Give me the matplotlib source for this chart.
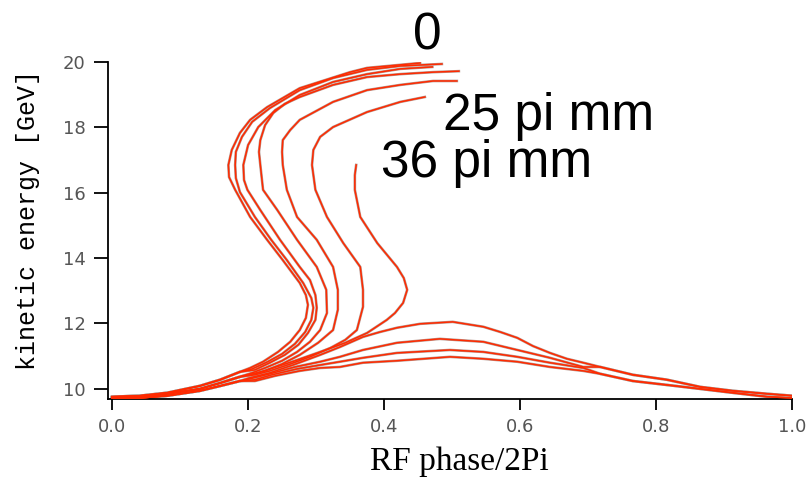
import numpy as np
import matplotlib
matplotlib.use("Agg")
import matplotlib.pyplot as plt

# phase-space traces: (RF phase / 2pi, kinetic energy GeV)
tail_a = [(0.188, 10.52), (0.159, 10.28), (0.129, 10.09), (0.081, 9.88), (0.041, 9.79), (0.0, 9.76)]
tail_b = [(0.188, 10.37), (0.159, 10.18), (0.129, 10.00), (0.081, 9.85), (0.041, 9.76), (0.0, 9.74)]
tail_c = [(0.188, 10.24), (0.159, 10.09), (0.129, 9.94), (0.081, 9.79), (0.041, 9.72), (0.0, 9.72)]
tail_r1 = [(0.718, 10.67), (0.766, 10.43), (0.816, 10.28), (0.865, 10.06), (0.913, 9.94),
           (0.963, 9.85), (1.0, 9.79)]
tail_r2 = [(0.718, 10.46), (0.766, 10.24), (0.816, 10.12), (0.865, 10.00), (0.913, 9.88),
           (0.963, 9.76), (1.0, 9.72)]

s_curve_1 = [(0.453, 19.97), (0.375, 19.82), (0.350, 19.69), (0.276, 19.20), (0.228, 18.62),
             (0.203, 18.23), (0.188, 17.83), (0.176, 17.31), (0.171, 16.85), (0.172, 16.48),
             (0.181, 16.09), (0.203, 15.26), (0.228, 14.56), (0.251, 13.94), (0.276, 13.24),
             (0.285, 12.87), (0.288, 12.57), (0.285, 12.17), (0.276, 11.80), (0.262, 11.44),
             (0.244, 11.13), (0.222, 10.83), (0.203, 10.64)]
s_curve_2 = [(0.485, 19.94), (0.424, 19.88), (0.375, 19.76), (0.325, 19.51), (0.276, 19.14),
             (0.232, 18.59), (0.206, 18.17), (0.191, 17.71), (0.182, 17.25), (0.181, 16.85),
             (0.182, 16.45), (0.188, 16.02), (0.210, 15.26), (0.234, 14.56), (0.257, 13.94),
             (0.281, 13.24), (0.293, 12.78), (0.296, 12.48), (0.293, 12.11), (0.284, 11.74),
             (0.269, 11.38), (0.250, 11.07), (0.229, 10.83), (0.206, 10.61)]
s_curve_3 = [(0.471, 19.85), (0.424, 19.79), (0.375, 19.63), (0.325, 19.39), (0.276, 18.99),
             (0.240, 18.53), (0.215, 18.01), (0.200, 17.46), (0.193, 16.85), (0.194, 16.39),
             (0.199, 16.09), (0.218, 15.47), (0.247, 14.56), (0.276, 13.73), (0.291, 13.33),
             (0.299, 12.87), (0.301, 12.48), (0.299, 12.11), (0.288, 11.71), (0.274, 11.35),
             (0.254, 11.04), (0.232, 10.80), (0.210, 10.58)]
s_curve_4 = [(0.510, 19.72), (0.472, 19.69), (0.424, 19.63), (0.375, 19.54), (0.325, 19.30),
             (0.276, 18.93), (0.254, 18.72), (0.237, 18.44), (0.225, 18.07), (0.218, 17.61),
             (0.216, 17.25), (0.218, 16.85), (0.222, 16.09), (0.243, 15.47), (0.272, 14.56),
             (0.301, 13.73), (0.315, 13.03), (0.316, 12.32), (0.306, 11.80), (0.291, 11.44),
             (0.272, 11.13), (0.250, 10.86), (0.225, 10.64), (0.206, 10.49)]
s_curve_5 = [(0.507, 19.42), (0.472, 19.42), (0.424, 19.30), (0.375, 19.14), (0.325, 18.78),
             (0.276, 18.23), (0.262, 17.92), (0.251, 17.61), (0.250, 17.25), (0.251, 16.85),
             (0.257, 16.09), (0.272, 15.26), (0.301, 14.56), (0.325, 13.73), (0.332, 13.03),
             (0.332, 12.42), (0.325, 11.80), (0.303, 11.41), (0.276, 11.04), (0.250, 10.76),
             (0.225, 10.55)]
s_curve_6 = [(0.460, 18.93), (0.424, 18.78), (0.375, 18.47), (0.325, 18.01), (0.306, 17.71),
             (0.296, 17.31), (0.294, 16.85), (0.299, 16.09), (0.316, 15.26), (0.340, 14.46),
             (0.365, 13.73), (0.369, 13.03), (0.369, 12.51), (0.360, 11.80), (0.343, 11.50),
             (0.321, 11.25), (0.291, 10.98), (0.262, 10.76), (0.232, 10.55), (0.210, 10.43)]
s_curve_7 = [(0.359, 16.85), (0.357, 16.54), (0.357, 16.09), (0.365, 15.26), (0.390, 14.46),
             (0.419, 13.73), (0.429, 13.39), (0.434, 13.03), (0.428, 12.63), (0.416, 12.32),
             (0.404, 12.11), (0.375, 11.71), (0.343, 11.41), (0.306, 11.13), (0.269, 10.86),
             (0.232, 10.61), (0.210, 10.46)]

hump_1 = [(0.203, 10.34), (0.232, 10.49), (0.266, 10.73), (0.306, 11.04), (0.335, 11.28),
          (0.369, 11.59), (0.394, 11.74), (0.419, 11.87), (0.453, 11.99), (0.501, 12.05),
          (0.546, 11.90), (0.571, 11.74), (0.596, 11.56), (0.619, 11.31), (0.644, 11.10),
          (0.669, 10.92), (0.693, 10.80)]
hump_2 = [(0.203, 10.31), (0.232, 10.46), (0.269, 10.67), (0.306, 10.83), (0.335, 10.98),
          (0.369, 11.19), (0.419, 11.41), (0.482, 11.53), (0.546, 11.44), (0.596, 11.19),
          (0.644, 10.95), (0.693, 10.67)]
hump_3 = [(0.210, 10.28), (0.235, 10.43), (0.272, 10.61), (0.306, 10.73), (0.335, 10.83),
          (0.369, 10.95), (0.419, 11.10), (0.497, 11.19), (0.546, 11.13), (0.596, 10.98),
          (0.644, 10.80), (0.693, 10.64)]
hump_4 = [(0.210, 10.24), (0.240, 10.40), (0.276, 10.55), (0.306, 10.64), (0.335, 10.67),
          (0.369, 10.80), (0.419, 10.86), (0.497, 10.98), (0.546, 10.92), (0.596, 10.83),
          (0.644, 10.67), (0.693, 10.55)]

s_curves = [(s_curve_1, tail_a), (s_curve_2, tail_a), (s_curve_3, tail_a), (s_curve_4, tail_b),
            (s_curve_5, tail_b), (s_curve_6, tail_b), (s_curve_7, tail_b)]
humps = [(hump_1, tail_r1), (hump_2, tail_r1), (hump_3, tail_r2), (hump_4, tail_r2)]

x_ticks = [0.0, 0.2, 0.4, 0.6, 0.8, 1.0]
y_ticks = [10, 12, 14, 16, 18, 20]
labels = [("0", 0.527, 0.896, "center"), ("25 pi mm", 0.546, 0.729, "left"),
          ("36 pi mm", 0.470, 0.631, "left")]

red = "#ff2a00"
edge = "#b89a92"

fig = plt.figure(figsize=(8.11, 4.8), dpi=100)
ax = fig.add_axes([0.1332, 0.16875, 0.8434, 0.70205])


def draw_trace(points):
	pts = np.array(points)
	ax.plot(pts[:, 0], pts[:, 1], color=edge, lw=1.9, solid_joinstyle="round", zorder=2)
	ax.plot(pts[:, 0], pts[:, 1], color=red, lw=1.1, solid_joinstyle="round", zorder=3)


for c, t in s_curves:
	draw_trace(c + t)
for h, t in humps:
	draw_trace(tail_c[::-1] + h + t)

ax.set_xlim(-0.006, 1.0)
ax.set_ylim(9.69, 20)
ax.set_xticks(x_ticks)
ax.set_xticklabels(["%.1f" % v for v in x_ticks])
ax.set_yticks(y_ticks)
for s in ["top", "right"]:
	ax.spines[s].set_visible(False)
for s in ["left", "bottom"]:
	ax.spines[s].set_linewidth(1.3)
ax.tick_params(axis="x", length=8, width=1.3, labelsize=13, labelcolor="#555555", pad=6)
ax.tick_params(axis="y", length=10, width=1.3, labelsize=13, labelcolor="#555555", pad=6)

ax.set_xlabel("RF phase/2Pi", family="Liberation Serif", fontsize=24)
ax.xaxis.set_label_coords(0.513, -0.142)
ax.set_ylabel("kinetic energy [GeV]", family="Liberation Mono", fontsize=18)
ax.yaxis.set_label_coords(-0.099, 0.53)

for txt, x, y, ha in labels:
	fig.text(x, y, txt, ha=ha, va="baseline", fontsize=37, family="Liberation Sans")

fig.savefig("out.png", dpi=100)
